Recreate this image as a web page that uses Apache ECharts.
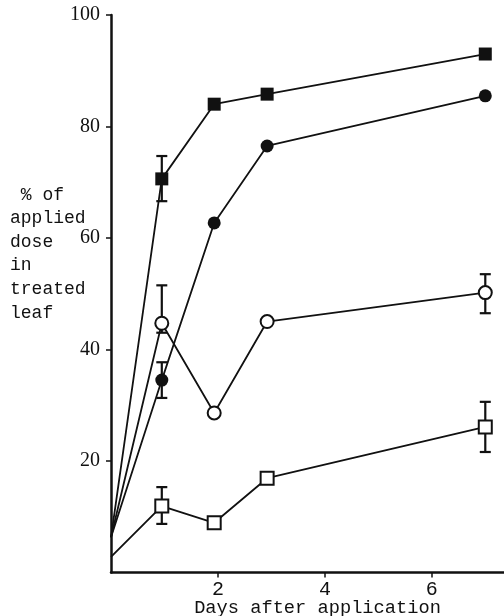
<!DOCTYPE html>
<html>
<head>
<meta charset="utf-8">
<script src="https://cdn.jsdelivr.net/npm/echarts@6/dist/echarts.min.js"></script>
<style>
  html, body { margin: 0; padding: 0; background: #fff; }
  #chart { width: 504px; height: 616px; }
</style>
</head>
<body>
<div id="chart"></div>
<script>
// Sampling times (days after application)
const days = [0, 0.95, 1.93, 2.92, 7.0];

// % of applied dose remaining in the treated leaf, one array per treatment
const filledSquare = [6.3, 70.6, 84.0, 85.8, 93.0];
const filledCircle = [6.3, 34.5, 62.7, 76.5, 85.5];
const openCircle   = [6.3, 44.7, 28.6, 45.0, 50.2];
const openSquare   = [2.8, 11.9, 8.9, 16.9, 26.1];

// Error bars: [day index, low, high]
const filledSquareErr = [[1, 66.6, 74.7]];
const filledCircleErr = [[1, 31.3, 37.7]];
const openCircleErr   = [[1, 43.0, 51.5], [4, 46.5, 53.5]];
const openSquareErr   = [[1, 8.7, 15.3], [4, 21.6, 30.6]];

// Axis tick values
const xTicks = [2, 4, 6];
const yTicks = [20, 40, 60, 80, 100];

const INK = '#111';
const MONO = '"Liberation Mono", "DejaVu Sans Mono", monospace';
const SERIF = '"Liberation Serif", "DejaVu Serif", serif';

function pairs(values) {
  return values.map((v, i) => i === 0
    ? { value: [days[i], v], symbol: 'none' }
    : [days[i], v]);
}

function lineSeries(name, values, symbol, filled) {
  return {
    name: name,
    type: 'line',
    data: pairs(values),
    symbol: symbol,
    symbolSize: 13,
    showAllSymbol: true,
    lineStyle: { color: INK, width: 1.8 },
    itemStyle: filled
      ? { color: INK, borderColor: INK, borderWidth: 0 }
      : { color: '#fff', borderColor: INK, borderWidth: 2 },
    emphasis: { disabled: true },
    z: 3,
    animation: false
  };
}

function errSeries(values) {
  return {
    type: 'custom',
    data: values.map(e => [days[e[0]], e[1], e[2]]),
    renderItem: function (params, api) {
      const x = api.value(0);
      const lo = api.coord([x, api.value(1)]);
      const hi = api.coord([x, api.value(2)]);
      const half = 5.5;
      const style = { stroke: INK, lineWidth: 2.2 };
      return {
        type: 'group',
        children: [
          { type: 'line', shape: { x1: lo[0], y1: lo[1], x2: hi[0], y2: hi[1] }, style: style },
          { type: 'line', shape: { x1: lo[0] - half, y1: lo[1], x2: lo[0] + half, y2: lo[1] }, style: style },
          { type: 'line', shape: { x1: hi[0] - half, y1: hi[1], x2: hi[0] + half, y2: hi[1] }, style: style }
        ]
      };
    },
    z: 2,
    animation: false
  };
}

const chart = echarts.init(document.getElementById('chart'), null, { renderer: 'canvas' });

chart.setOption({
  backgroundColor: '#fff',
  animation: false,
  title: {
    text: ' % of\napplied\ndose\nin\ntreated\nleaf',
    left: 10,
    top: 183,
    padding: 0,
    textStyle: {
      fontFamily: MONO,
      fontSize: 18,
      fontWeight: 'normal',
      color: INK,
      lineHeight: 23.6
    }
  },
  grid: { left: 111, right: 0, top: 15, bottom: 43.6, outerBoundsMode: 'none', containLabel: false },
  xAxis: {
    type: 'value',
    min: 0,
    max: 7.35,
    interval: 2,
    splitLine: { show: false },
    axisLine: { lineStyle: { color: INK, width: 2.5 } },
    axisTick: { show: true, length: 5, lineStyle: { color: INK, width: 1.5 }, customValues: xTicks },
    axisLabel: {
      customValues: xTicks,
      margin: 7,
      fontFamily: MONO,
      fontSize: 20,
      color: INK
    },
    name: 'Days after application',
    nameLocation: 'middle',
    nameGap: 26,
    nameMoveOverlap: false,
    nameTextStyle: {
      fontFamily: MONO,
      fontSize: 18.7,
      color: INK,
      padding: [0, 0, 0, 20]
    }
  },
  yAxis: {
    type: 'value',
    min: 0,
    max: 100,
    interval: 20,
    splitLine: { show: false },
    axisLine: { lineStyle: { color: INK, width: 2.5 } },
    axisTick: { show: true, length: 5, lineStyle: { color: INK, width: 1.5 }, customValues: yTicks },
    axisLabel: {
      customValues: yTicks,
      margin: 11,
      fontFamily: SERIF,
      fontSize: 20,
      color: INK
    }
  },
  series: [
    errSeries(filledSquareErr),
    errSeries(filledCircleErr),
    errSeries(openCircleErr),
    errSeries(openSquareErr),
    lineSeries('filled square', filledSquare, 'rect', true),
    lineSeries('filled circle', filledCircle, 'circle', true),
    lineSeries('open circle', openCircle, 'circle', false),
    lineSeries('open square', openSquare, 'rect', false)
  ]
});
</script>
</body>
</html>
